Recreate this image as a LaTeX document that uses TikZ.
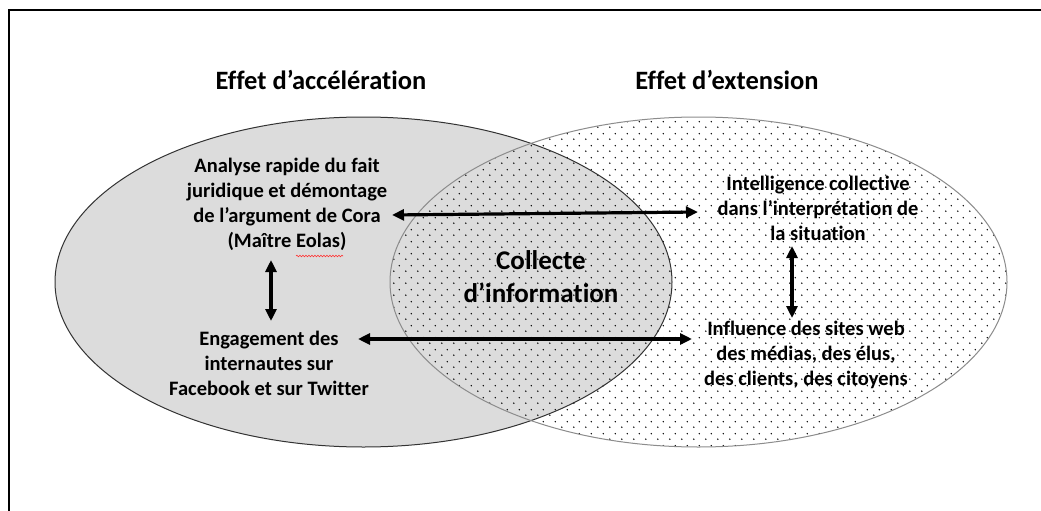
\documentclass[tikz,border=0pt]{standalone}
\usepackage{fontspec}
\setmainfont{Carlito}[Ligatures=NoCommon]
\usetikzlibrary{arrows.meta,patterns,calc,decorations.pathmorphing}

\pgfdeclarepatternformonly{vdots}{\pgfqpoint{0pt}{0pt}}{\pgfqpoint{11.5pt}{11.5pt}}{\pgfqpoint{11.5pt}{11.5pt}}{%
  \pgfpathcircle{\pgfqpoint{2.875pt}{2.875pt}}{0.8pt}%
  \pgfpathcircle{\pgfqpoint{8.625pt}{8.625pt}}{0.8pt}%
  \pgfusepath{fill}}

\definecolor{lgray}{HTML}{DCDCDC}

\begin{document}
\begin{tikzpicture}[x=1pt,y=-1pt,
  lbl/.style={font=\bfseries\fontsize{20.5}{25}\selectfont, align=center, inner sep=0pt},
  ttl/.style={font=\bfseries\fontsize{26.5}{30}\selectfont, inner sep=0pt},
  ctr/.style={font=\bfseries\fontsize{27}{33}\selectfont, align=center, inner sep=0pt},
  biarr/.style={line width=3.2pt, {Triangle[length=12pt,width=11pt]}-{Triangle[length=12pt,width=11pt]}}]
\useasboundingbox (0,0) rectangle (1041,511);
\fill[white] (0,0) rectangle (1041,511);
% ellipses
\fill[lgray] (363.5,282) ellipse [x radius=308.5, y radius=165];
\fill[pattern=vdots, pattern color=black] (698.5,282) ellipse [x radius=308.5, y radius=165];
\draw[black!80, line width=1pt] (363.5,282) ellipse [x radius=308.5, y radius=165];
\draw[black!45, line width=1pt] (698.5,282) ellipse [x radius=308.5, y radius=165];
% frame
\draw[line width=2pt] (9,511) -- (9,10) -- (1041,10);
% texts
\node[ttl] (tacc) at (321,80) {Effet d’accélération};
\node[ttl] (text) at (727,80) {Effet d’extension};
\node[lbl] (analyse) at (287,204) {Analyse rapide du fait\\juridique et démontage\\de l’argument de Cora\\(Maître Eolas)};
\node[lbl] (engage) at (269,363) {Engagement des\\internautes sur\\Facebook et sur Twitter};
\node[lbl] (intel) at (818,208) {Intelligence collective\\dans l’interprétation de\\la situation};
\node[lbl] (infl) at (806,355) {Influence des sites web\\des médias, des élus,\\des clients, des citoyens};
\node[ctr] (coll) at (541,277) {Collecte\\d’information};
% spell-check underline
\draw[red!80, line width=0.6pt, decorate, decoration={snake, amplitude=0.8pt, segment length=3pt}] (296,256) -- (343,256);
% arrows
\draw[biarr] ($(analyse.center)+(105,11)$) -- ($(intel.center)+(-120,4)$);
\draw[biarr] ($(engage.center)+(89,-24)$) -- ($(infl.center)+(-114,-16)$);
\draw[biarr] ($(analyse.center)+(-16,56)$) -- ($(engage.center)+(2,-42)$);
\draw[biarr] ($(intel.center)+(-26,38)$) -- ($(infl.center)+(-14,-37)$);
\end{tikzpicture}
\end{document}
